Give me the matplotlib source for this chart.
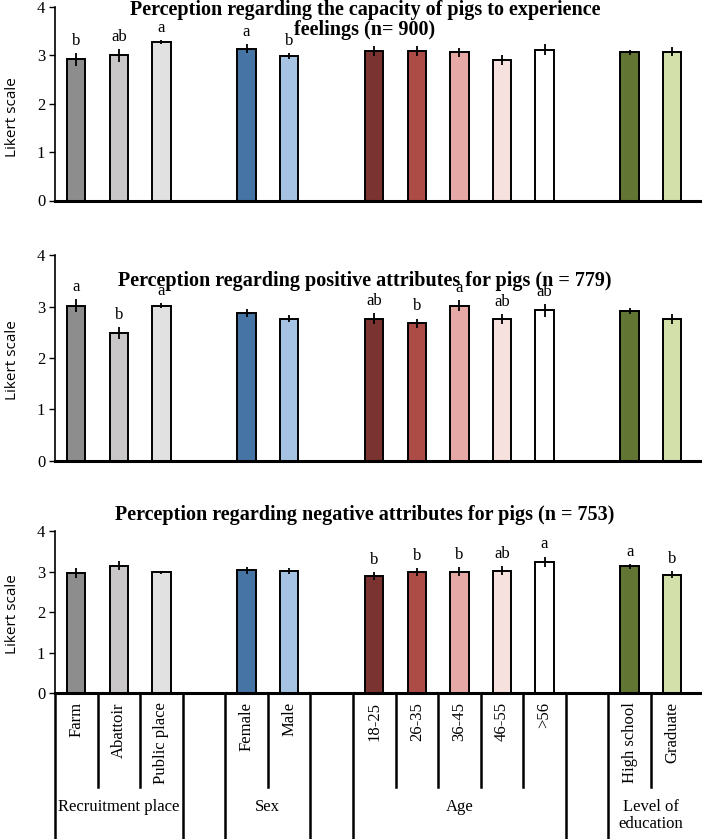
import matplotlib.pyplot as plt
from matplotlib.transforms import blended_transform_factory

# categories, in the order drawn; a blank slot separates the groups
categories = ["Farm", "Abattoir", "Public place", "Female", "Male",
              "18-25", "26-35", "36-45", "46-55", ">56",
              "High school", "Graduate"]
groups = ["Recruitment place", "Sex", "Age", "Level of\neducation"]
group_sizes = [3, 2, 5, 2]
colors = ["#8d8d8d", "#c9c7c8", "#e1e1e1", "#4674a5", "#a6c3e3",
          "#7a3330", "#ad4b47", "#e6a9a6", "#f6e1df", "#ffffff",
          "#637533", "#d3e0a9"]

titles = [
    "Perception regarding the capacity of pigs to experience\nfeelings (n= 900)",
    "Perception regarding positive attributes for pigs (n = 779)",
    "Perception regarding negative attributes for pigs (n = 753)",
]

feelings_mean = [2.92, 3.00, 3.27, 3.14, 2.98, 3.09, 3.09, 3.06, 2.91, 3.12, 3.06, 3.08]
feelings_err = [0.13, 0.13, 0.04, 0.10, 0.06, 0.10, 0.10, 0.10, 0.10, 0.12, 0.06, 0.10]
feelings_letters = ["b", "ab", "a", "a", "b", "", "", "", "", "", "", ""]

positive_mean = [3.02, 2.49, 3.02, 2.88, 2.77, 2.77, 2.68, 3.02, 2.76, 2.93, 2.91, 2.76]
positive_err = [0.13, 0.12, 0.05, 0.08, 0.07, 0.10, 0.09, 0.11, 0.10, 0.12, 0.06, 0.10]
positive_letters = ["a", "b", "a", "", "", "ab", "b", "a", "ab", "ab", "", ""]

negative_mean = [2.96, 3.14, 2.98, 3.03, 3.02, 2.89, 2.99, 3.00, 3.02, 3.24, 3.13, 2.92]
negative_err = [0.13, 0.11, 0.03, 0.09, 0.07, 0.10, 0.09, 0.11, 0.11, 0.13, 0.06, 0.09]
negative_letters = ["", "", "", "", "", "b", "b", "b", "ab", "a", "a", "b"]

panels = [
    (feelings_mean, feelings_err, feelings_letters),
    (positive_mean, positive_err, positive_letters),
    (negative_mean, negative_err, negative_letters),
]

serif = "Liberation Serif"
W, H = 702, 839

# slot positions: groups separated by one empty slot
positions = []
group_bounds = []
start = 0
for size in group_sizes:
    positions += [start + i + 0.5 for i in range(size)]
    group_bounds.append((start, start + size))
    start += size + 1

fig = plt.figure(figsize=(W / 100, H / 100), dpi=100)

# axes boxes in pixels: (top, bottom)
boxes = [(7, 200.5), (255.5, 460.7), (531, 693.3)]
title_y = [20, 281, 515]
ylabel_pos = [0.43, 0.49, 0.49]
left_px = 55
ax_w = (W - left_px)

axes = []
for (top, bottom), (means, errs, letters), title, ty, yl in zip(boxes, panels, titles, title_y, ylabel_pos):
    ax = fig.add_axes([left_px / W, (H - bottom) / H, ax_w / W, (bottom - top) / H])
    ax.bar(positions, means, width=0.43, color=colors, edgecolor="black", linewidth=1.4, zorder=2)
    ax.errorbar(positions, means, yerr=errs, fmt="none", ecolor="black", elinewidth=1.3, capsize=0, zorder=3)
    for x, m, e, lab in zip(positions, means, errs, letters):
        if lab:
            ax.annotate(lab, (x, m + e), xytext=(0, 3), textcoords="offset points",
                        ha="center", va="bottom", fontsize=12, family=serif)
    ax.set_xlim(0, 15.2)
    ax.set_ylim(0, 4)
    ax.set_yticks([0, 1, 2, 3, 4])
    ax.tick_params(axis="y", direction="out", length=4, width=1, labelsize=12, pad=3)
    for t in ax.get_yticklabels():
        t.set_fontfamily(serif)
    ax.set_xticks([])
    ax.spines["top"].set_visible(False)
    ax.spines["right"].set_visible(False)
    ax.spines["left"].set_linewidth(1.2)
    ax.spines["bottom"].set_linewidth(2.2)
    ax.set_ylabel("Likert scale", family="Open Sans", fontsize=11)
    ax.yaxis.label.set_verticalalignment("center")
    ax.yaxis.set_label_coords(-(left_px - 13) / ax_w, yl)
    fig.text(365 / W, 1 - ty / H, title, ha="center", va="center",
             fontsize=14.5, fontweight="bold", family=serif, linespacing=1.0)
    axes.append(ax)

# category axis below the last panel
ax = axes[-1]
trans = blended_transform_factory(ax.transData, fig.transFigure)
label_top = 1 - 702 / H
short_end = 1 - 787 / H
group_label_top = 1 - 799 / H

long_bounds = set()
for a, b in group_bounds:
    long_bounds.update([a, b])
for b in range(0, 15):
    y_end = 0.0 if b in long_bounds else short_end
    ax.plot([b, b], [1 - 693.3 / H, y_end], color="black", lw=1.8,
            transform=trans, clip_on=False)

for x, cat in zip(positions, categories):
    fig.text(x, label_top, cat, transform=trans, rotation=90, ha="center", va="top",
             fontsize=12, family=serif)

for (a, b), name in zip(group_bounds, groups):
    fig.text((a + b) / 2, group_label_top, name, transform=trans, ha="center", va="top",
             fontsize=12, family=serif, linespacing=1.1)

fig.savefig("out.png", dpi=100)
